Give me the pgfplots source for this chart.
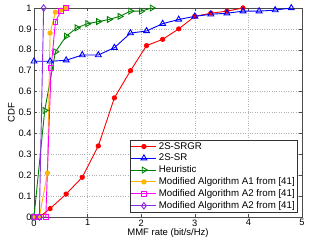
\documentclass[border=0pt]{standalone}
\usepackage{pgfplots}
\pgfplotsset{compat=1.18}
\usepackage{fontspec}
\setmainfont{Liberation Sans}
\definecolor{cA}{RGB}{255,0,0}
\definecolor{cB}{RGB}{0,0,255}
\definecolor{cC}{RGB}{0,128,0}
\definecolor{cD}{RGB}{255,180,0}
\definecolor{cE}{RGB}{255,0,255}
\definecolor{cF}{RGB}{138,43,226}
\begin{document}
\begin{tikzpicture}
\begin{axis}[
  scale only axis, width=268pt, height=209pt,
  xmin=0, xmax=5, ymin=0, ymax=1,
  xtick={0,1,2,3,4,5}, ytick={0,0.1,0.2,0.3,0.4,0.5,0.6,0.7,0.8,0.9,1},
  yticklabels={0,0.1,0.2,0.3,0.4,0.5,0.6,0.7,0.8,0.9,1},
  tick align=inside, tick pos=both,
  major tick length=3pt,
  grid=major, grid style={dotted, gray!60, line width=0.5pt},
  axis line style={black!70},
  every tick/.style={black!70},
  /pgf/number format/assume math mode=true,
  tick label style={font=\fontsize{9.3}{10}\selectfont},
  xticklabel style={yshift=1pt},
  yticklabel style={xshift=1pt},
  label style={font=\fontsize{9.5}{10}\selectfont},
  xlabel={MMF rate (bit/s/Hz)}, ylabel={CDF},
  xlabel style={yshift=4pt},
  ylabel style={yshift=-3pt},
  legend style={font=\fontsize{9.7}{11.6}\selectfont, at={(0.985,0.02)}, anchor=south east,
    draw=black!80, line width=0.5pt, inner xsep=1pt, inner ysep=0.5pt, row sep=-0.6pt,
    cells={anchor=west}},
  legend image code/.code={\draw[mark repeat=2,mark phase=2] plot coordinates {(-2pt,0pt) (10.5pt,0pt) (23pt,0pt)};},
  clip=false,
]
\addplot[cA, line width=0.9pt, mark=asterisk, mark size=2.5pt, mark options={line width=1.9pt}] coordinates {
(0,0) (0.1,0) (0.3,0.04) (0.6,0.11) (0.9,0.19) (1.2,0.34) (1.5,0.57) (1.8,0.70) (2.1,0.82) (2.4,0.85) (2.7,0.90) (3.0,0.96) (3.3,0.975) (3.6,0.985) (3.9,1.0)};
\addlegendentry{2S-SRGR}
\addplot[cB, line width=0.9pt, mark=triangle, mark size=3.4pt, mark options={line width=0.9pt}] coordinates {
(0,0.745) (0.3,0.745) (0.6,0.75) (0.9,0.775) (1.2,0.775) (1.5,0.81) (1.8,0.88) (2.1,0.89) (2.4,0.925) (2.7,0.945) (3.0,0.96) (3.3,0.97) (3.6,0.975) (3.9,0.985) (4.2,0.985) (4.5,0.99) (4.8,1.0)};
\addlegendentry{2S-SR}
\addplot[cC, line width=0.9pt, mark=triangle, mark size=3.4pt, mark options={line width=0.9pt, rotate=-90}] coordinates {
(0,0) (0.2,0.51) (0.4,0.79) (0.6,0.865) (0.8,0.905) (1.0,0.925) (1.2,0.935) (1.4,0.945) (1.6,0.96) (1.8,0.985) (2.0,0.985) (2.2,1.0)};
\addlegendentry{Heuristic}
\addplot[cD, line width=0.9pt, mark=asterisk, mark size=2.5pt, mark options={line width=1.9pt}] coordinates {
(0,0) (0.1,0) (0.25,0.21) (0.3,0.88) (0.4,0.98) (0.5,0.99) (0.6,1.0)};
\addlegendentry{Modified Algorithm A1 from [41]}
\addplot[cE, line width=0.9pt, mark=square, mark size=2.4pt, mark options={line width=0.9pt}] coordinates {
(0,0) (0.1,0) (0.22,0) (0.32,0.715) (0.4,0.935) (0.5,0.985) (0.6,1.0)};
\addlegendentry{Modified Algorithm A2 from [41]}
\addplot[cF, line width=0.9pt, mark=diamond, mark size=3.2pt, mark options={line width=0.9pt}] coordinates {
(0,0) (0.1,0) (0.18,1.0)};
\addlegendentry{Modified Algorithm A2 from [41]}
\end{axis}
\pgfresetboundingbox
\path (-34pt,-28pt) rectangle (290pt,217pt);
\end{tikzpicture}
\end{document}
